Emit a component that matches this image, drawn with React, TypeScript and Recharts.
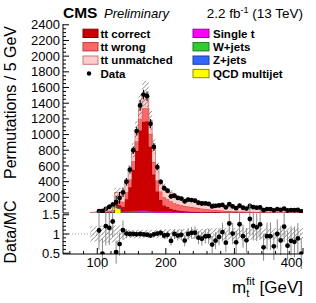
import React from 'react';
import { ComposedChart, Area, Scatter, XAxis, YAxis, ErrorBar, ReferenceLine } from 'recharts';

const FONT = '"Liberation Sans", Arial, Helvetica, sans-serif';

// ---- MC histogram bins (lower edges, GeV, 5 GeV wide) ----
const mcEdges = [90,95,100,105,110,115,120,125,130,135,140,145,150,155,160,165,170,175,180,185,190,195,200,205,210,215,220,225,230,235,240,245,250,255,260,265,270,275,280,285,290,295,300,305,310,315,320,325,330,335,340,345,350,355,360,365,370,375,380,385,390,395];
const ttCorrect = [0,0,1,1,2,3,5,10,30,60, 150,300,520,760,1020,1130,1140,820,470,260, 150,80,60,40,28,20,15,12,10,8, 6,5,4,3,3,2,2,2,1,1, 1,1,1,1,1,0,0,0,0,0, 0,0,0,0,0,0,0,0,0,0, 0,0];
const ttWrong = [2,3,5,8,10,15,20,40,60,65, 90,100,110,125,150,170,165,165,160,140, 110,105,100,95,85,78,72,68,62,58, 54,50,46,42,38,35,30,27,24,21, 19,17,15,14,13,12,11,10,9,9, 8,8,7,7,7,6,6,6,6,5, 5,5];
const ttUnmatched = [5,8,14,30,25,40,45,95,102,95, 130,125,140,140,170,190,185,175,200,165, 110,130,115,110,95,90,90,90,88,85, 83,82,81,78,75,73,72,69,67,66, 63,60,58,55,52,50,48,47,45,43, 43,41,41,39,38,38,37,36,35,35, 34,33];
const singleT = [1,1,2,3,3,4,5,8,8,10, 15,18,20,22,25,28,25,20,15,12, 12,12,12,12,10,10,9,8,8,7, 7,6,6,6,6,5,5,5,5,4, 4,4,4,4,4,4,4,3,3,3, 3,3,3,3,3,3,3,3,3,3, 3,3];
const wJets = [0,0,0,1,1,2,2,4,3,5, 5,6,8,6,5,6,5,5,5,3, 3,3,3,3,2,2,2,2,2,2, 2,2,1,1,1,1,1,1,1,1, 1,1,1,1,1,1,1,1,1,1, 1,1,1,1,1,1,1,1,1,1, 1,1];
const zJets = [0,0,0,0,0,1,1,5,2,1, 2,2,2,2,2,1,0,0,0,0, 0,0,0,0,0,0,0,0,0,0, 0,0,0,0,0,0,0,0,0,0, 0,0,0,0,0,0,0,0,0,0, 0,0,0,0,0,0,0,0,0,0, 0,0];
const qcd = [0,0,0,7,3,3,2,100,55,4, 3,1,0,0,0,0,0,0,0,0, 0,0,0,0,0,0,0,0,0,0, 0,0,0,0,0,0,0,0,0,0, 0,0,0,0,0,0,0,0,0,0, 0,0,0,0,0,0,0,0,0,0, 0,0];
const mcUnc = [0.2,0.2,0.2,0.22,0.22,0.22,0.22,0.22,0.22,0.15, 0.11,0.11,0.11,0.11,0.11,0.11,0.11,0.11,0.11,0.11, 0.11,0.13,0.13,0.13,0.13,0.13,0.13,0.13,0.13,0.13, 0.13,0.13,0.13,0.13,0.15,0.15,0.15,0.15,0.15,0.15, 0.15,0.15,0.15,0.15,0.15,0.15,0.15,0.15,0.15,0.15, 0.15,0.15,0.15,0.15,0.15,0.15,0.15,0.15,0.15,0.15, 0.15,0.15];

// ---- Data ----
const dataEdges = [100,105,110,115,120,125,130,135,140,145,150,155,160,165,170,175,180,185,190,195,200,205,210,215,220,225,230,235,240,245,250,255,260,265,270,275,280,285,290,295,300,305,310,315,320,325,330,335,340,345,350,355,360,365,370,375,380,385,390,395];
const dataCounts = [24,23,53,79,106,139,192,264,399,552, 800,1045,1372,1510,1490,1138,842,586,397,317, 284,213,220,192,184,149,170,165,157,131, 121,122,116,84,91,96,103,72,112,84, 62,94,67,56,89,74,68,70,36,50, 49,34,49,40,56,32,37,35,38,19];
const ratioErr = [0.5,0.4,0.5,0.45,0.4,0.3,0.3,0.25,0.12,0.08, 0.06,0.05,0.05,0.04,0.04,0.05,0.06,0.07,0.08,0.1, 0.1,0.12,0.13,0.13,0.14,0.15,0.15,0.15,0.16,0.17, 0.18,0.18,0.2,0.22,0.22,0.22,0.24,0.25,0.3,0.28, 0.3,0.32,0.3,0.32,0.4,0.38,0.36,0.38,0.35,0.35, 0.36,0.36,0.38,0.38,0.4,0.38,0.38,0.4,0.4,0.4];

// ---- Ticks ----
const xMajor = [100, 200, 300, 400];
const xTicks = [60,80,100,120,140,160,180,200,220,240,260,280,300,320,340,360,380,400];
const yMajor = [0,200,400,600,800,1000,1200,1400,1600,1800,2000,2200,2400];
const yLabels = [200,400,600,800,1000,1200,1400,1600,1800,2000,2200,2400];
const yTicks: number[] = [];
for (let v = 0; v <= 2400; v += 50) yTicks.push(v);
const rMajor = [0.5, 1, 1.5];
const rTicks = [0.5,0.6,0.7,0.8,0.9,1,1.1,1.2,1.3,1.4,1.5];

const legendLeft = [
  { label: 'tt correct', fill: '#cc0000', stroke: '#7a0000' },
  { label: 'tt wrong', fill: '#ff6666', stroke: '#b83a3a' },
  { label: 'tt unmatched', fill: '#ffcccc', stroke: '#c87878' },
];
const legendRight = [
  { label: 'Single t', fill: '#ff00ff', stroke: '#990099' },
  { label: 'W+jets', fill: '#33cc33', stroke: '#1f7a1f' },
  { label: 'Z+jets', fill: '#3366ff', stroke: '#1f3d99' },
  { label: 'QCD multijet', fill: '#ffff00', stroke: '#8a8a00' },
];

// ---- derived tables ----
const totals = mcEdges.map((_, i) => ttCorrect[i] + ttWrong[i] + ttUnmatched[i] + singleT[i] + wJets[i] + zJets[i] + qcd[i]);
const histRows: any[] = mcEdges.map((x, i) => ({
  x,
  qcd: qcd[i], zJets: zJets[i], wJets: wJets[i], singleT: singleT[i],
  ttCorrect: ttCorrect[i], ttWrong: ttWrong[i], ttUnmatched: ttUnmatched[i],
  band: [totals[i] * (1 - mcUnc[i]), totals[i] * (1 + mcUnc[i])],
  rband: [1 - mcUnc[i], 1 + mcUnc[i]],
}));
histRows.push({ ...histRows[histRows.length - 1], x: 400 });

const totalAt = (e: number) => totals[mcEdges.indexOf(e)];
const dataPts = dataEdges.map((e, i) => ({ x: e + 2.5, y: dataCounts[i], ey: ratioErr[i] * totalAt(e), ex: 2.5 }));
const ratioPts = dataEdges.map((e, i) => {
  const r = dataCounts[i] / totalAt(e);
  return { x: e + 2.5, y: Math.min(1.51, Math.max(0.49, r)), ey: ratioErr[i], ex: 2.5 };
});

type Side = 'bottom' | 'top' | 'left' | 'right';
const near = (arr: number[], v: number) => arr.some((a) => Math.abs(a - v) < 1e-6);
function makeTick(side: Side, majors: number[], labels: number[]) {
  return (props: any) => {
    const { x, y, payload } = props;
    const v = payload.value;
    const major = near(majors, v);
    const L = major ? 6 : 3;
    let x2 = x, y2 = y;
    if (side === 'bottom') y2 = y - L;
    if (side === 'top') y2 = y + L;
    if (side === 'left') x2 = x + L;
    if (side === 'right') x2 = x - L;
    let label: any = null;
    if (near(labels, v)) {
      if (side === 'left') {
        label = <text x={x - 3} y={y + 4.6} textAnchor="end" fontSize={13} fontFamily={FONT} fill="#000">{String(v)}</text>;
      } else if (side === 'bottom') {
        const last = v === 400;
        label = <text x={last ? x - 0.5 : x} y={y + 12.5} textAnchor={last ? 'end' : 'middle'} fontSize={13} fontFamily={FONT} fill="#000">{String(v)}</text>;
      }
    }
    return (
      <g>
        <line x1={x} y1={y} x2={x2} y2={y2} stroke="#000" strokeWidth={1} />
        {label}
      </g>
    );
  };
}

const dotShape = (p: any) => <circle cx={p.cx} cy={p.cy} r={2.4} fill="#000" />;

const stackDefs = [
  { key: 'qcd', fill: '#ffff00', stroke: '#8a8a00' },
  { key: 'zJets', fill: '#3366ff', stroke: '#1f3d99' },
  { key: 'wJets', fill: '#33cc33', stroke: '#1f7a1f' },
  { key: 'singleT', fill: '#ff00ff', stroke: '#990099' },
  { key: 'ttCorrect', fill: '#cc0000', stroke: '#7a0000' },
  { key: 'ttWrong', fill: '#ff6666', stroke: '#b83a3a' },
  { key: 'ttUnmatched', fill: '#ffcccc', stroke: '#c87878' },
];

const axisCommon = { tickSize: 0, tickMargin: 0, interval: 0 as const, axisLine: { stroke: '#000', strokeWidth: 1 }, tickLine: false, allowDataOverflow: true };

export default function App() {
  return (
    <div style={{ position: 'absolute', left: 0, top: 0, width: 316, height: 303, background: '#fff', fontFamily: FONT }}>
      <svg width={0} height={0} style={{ position: 'absolute' }}>
        <defs>
          <pattern id="hatch" patternUnits="userSpaceOnUse" width={3.2} height={3.2} patternTransform="rotate(45)">
            <line x1={0} y1={0} x2={0} y2={3.2} stroke="#333" strokeWidth={0.8} />
          </pattern>
        </defs>
      </svg>

      <div style={{ position: 'absolute', left: 0, top: 0 }}>
        <ComposedChart width={316} height={214} data={histRows} margin={{ top: 24, right: 13, bottom: 1, left: 8 }}>
          <XAxis dataKey="x" type="number" domain={[50, 400]} ticks={xTicks} height={0} tick={makeTick('bottom', xMajor, [])} {...axisCommon} />
          <XAxis xAxisId="top" orientation="top" dataKey="x" type="number" domain={[50, 400]} ticks={xTicks} height={0} tick={makeTick('top', xMajor, [])} {...axisCommon} />
          <YAxis type="number" domain={[0, 2410]} ticks={yTicks} width={55} tick={makeTick('left', yMajor, yLabels)} {...axisCommon} />
          <YAxis yAxisId="right" orientation="right" type="number" domain={[0, 2410]} ticks={yTicks} width={0} tick={makeTick('right', yMajor, [])} {...axisCommon} />
          {stackDefs.map((s) => (
            <Area key={s.key} dataKey={s.key} stackId="mc" type="stepAfter" fill={s.fill} fillOpacity={1} stroke={s.stroke} strokeWidth={0.8} dot={false} activeDot={false} isAnimationActive={false} />
          ))}
          <Area dataKey="band" type="stepAfter" fill="url(#hatch)" fillOpacity={1} stroke="none" dot={false} activeDot={false} isAnimationActive={false} />
          <Scatter data={dataPts} dataKey="y" fill="#000" shape={dotShape} isAnimationActive={false}>
            <ErrorBar dataKey="ey" direction="y" width={0} stroke="#000" strokeWidth={1} />
            <ErrorBar dataKey="ex" direction="x" width={0} stroke="#000" strokeWidth={1} />
          </Scatter>
        </ComposedChart>
      </div>

      <div style={{ position: 'absolute', left: 0, top: 200 }}>
        <ComposedChart width={316} height={103} data={histRows} margin={{ top: 14, right: 13, bottom: 0, left: 8 }}>
          <XAxis dataKey="x" type="number" domain={[50, 400]} ticks={xTicks} height={49} tick={makeTick('bottom', xMajor, xMajor)} {...axisCommon} />
          <XAxis xAxisId="top" orientation="top" dataKey="x" type="number" domain={[50, 400]} ticks={xTicks} height={0} tick={makeTick('top', xMajor, [])} {...axisCommon} />
          <YAxis type="number" domain={[0.48, 1.52]} ticks={rTicks} width={55} tick={makeTick('left', rMajor, rMajor)} {...axisCommon} />
          <YAxis yAxisId="right" orientation="right" type="number" domain={[0.48, 1.52]} ticks={rTicks} width={0} tick={makeTick('right', rMajor, [])} {...axisCommon} />
          <ReferenceLine y={1} stroke="#999" strokeDasharray="1 2" />
          <Area dataKey="rband" type="stepAfter" fill="url(#hatch)" fillOpacity={1} stroke="none" dot={false} activeDot={false} isAnimationActive={false} />
          <Scatter data={ratioPts} dataKey="y" fill="#000" shape={dotShape} isAnimationActive={false}>
            <ErrorBar dataKey="ey" direction="y" width={0} stroke="#888" strokeWidth={1} />
            <ErrorBar dataKey="ex" direction="x" width={0} stroke="#000" strokeWidth={1} />
          </Scatter>
        </ComposedChart>
      </div>

      <svg width={316} height={303} style={{ position: 'absolute', left: 0, top: 0, pointerEvents: 'none' }}>
        <text x={63} y={18.3} fontSize={15.5} fontWeight="bold" fontFamily={FONT}>CMS</text>
        <text x={104} y={18} fontSize={13} fontStyle="italic" fontFamily={FONT}>Preliminary</text>
        <text x={303} y={18} fontSize={13.5} textAnchor="end" fontFamily={FONT}>
          2.2 fb<tspan fontSize={9} dy={-5}>-1</tspan><tspan dy={5}> (13 TeV)</tspan>
        </text>

        {legendLeft.map((l, i) => (
          <g key={l.label}>
            <rect x={83} y={29.2 + i * 13.4} width={15} height={8.3} fill={l.fill} stroke={l.stroke} strokeWidth={1} />
            <text x={100.5} y={37.5 + i * 13.4} fontSize={11.5} fontWeight="bold" fontFamily={FONT}>{l.label}</text>
          </g>
        ))}
        <circle cx={89} cy={73.5} r={2.2} fill="#000" />
        <text x={100.5} y={77.7} fontSize={11.5} fontWeight="bold" fontFamily={FONT}>Data</text>
        {legendRight.map((l, i) => (
          <g key={l.label}>
            <rect x={193} y={29.2 + i * 13.4} width={16} height={8.3} fill={l.fill} stroke={l.stroke} strokeWidth={1} />
            <text x={213} y={37.5 + i * 13.4} fontSize={11.5} fontWeight="bold" fontFamily={FONT}>{l.label}</text>
          </g>
        ))}

        <text transform="translate(16,26) rotate(-90)" textAnchor="end" fontSize={16} fontFamily={FONT}>Permutations / 5 GeV</text>
        <text transform="translate(16,232) rotate(-90)" textAnchor="middle" fontSize={16} fontFamily={FONT}>Data/MC</text>
        <text x={303} y={293} textAnchor="end" fontSize={17} fontFamily={FONT}>
          m<tspan fontSize={11} dy={4}>t</tspan><tspan fontSize={11} dx={-3} dy={-12}>fit</tspan><tspan fontSize={17} dy={8}> [GeV]</tspan>
        </text>
      </svg>
    </div>
  );
}
